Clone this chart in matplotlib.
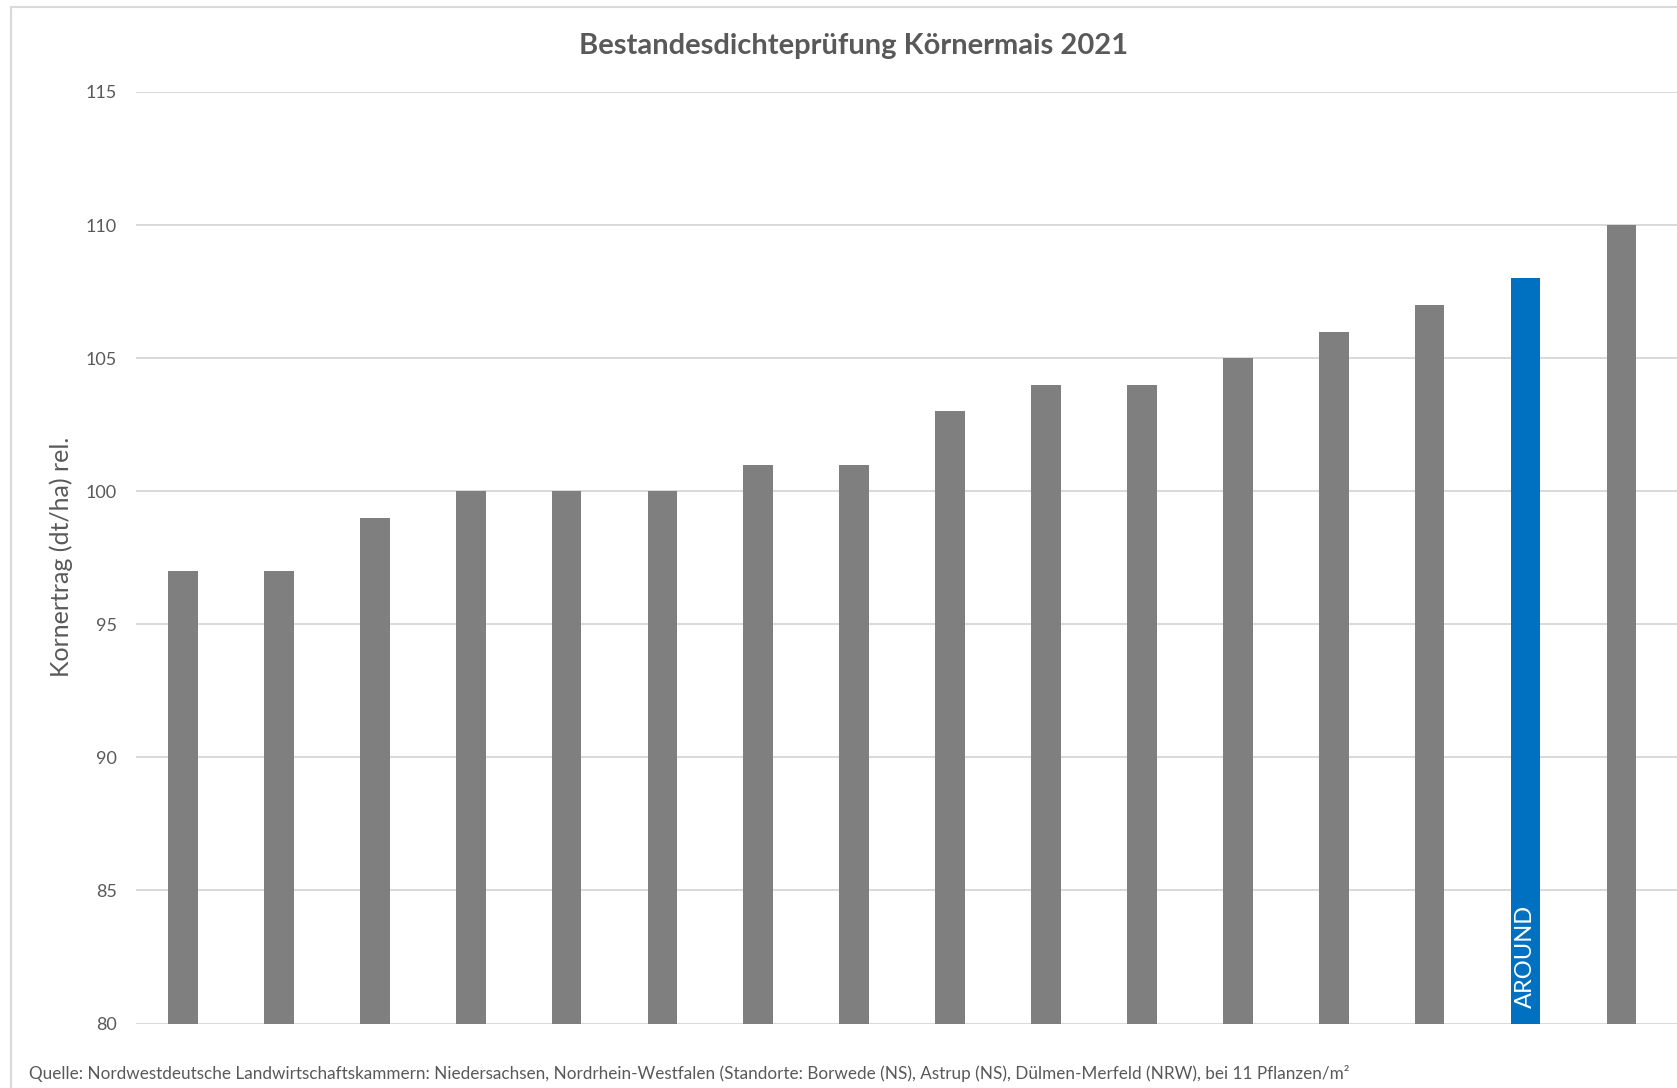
import matplotlib.pyplot as plt
from matplotlib.patches import Rectangle

plt.rcParams['font.family'] = ['Lato', 'DejaVu Sans']

# Kornertrag rel. je Sorte (aufsteigend sortiert)
values = [97, 97, 99, 100, 100, 100, 101, 101, 103, 104, 104, 105, 106, 107, 108, 110]
highlight_idx = 14
highlight_label = 'AROUND'
yticks = [80, 85, 90, 95, 100, 105, 110, 115]

GREY = '#7F7F7F'
BLUE = '#0070C0'
TEXT = '#595959'
GRID = '#D9D9D9'

W, H = 1677, 1088
fig = plt.figure(figsize=(W / 100, H / 100), dpi=100)

# heller Rahmen um das Diagramm
fig.patches.append(Rectangle((11 / W, -0.1), 1.2, 1 - 7 / H + 0.1, transform=fig.transFigure,
                             fill=False, edgecolor=GRID, linewidth=1.5))

ax = fig.add_axes([136 / W, 64.5 / H, 1 - 136 / W, (1023.5 - 92) / H])
x = list(range(len(values)))
colors = [BLUE if i == highlight_idx else GREY for i in x]
ax.bar(x, [v - 80 for v in values], bottom=80, width=0.31, color=colors, zorder=3)

ax.set_ylim(80, 115)
ax.set_xlim(-0.49, 15.58)
ax.set_yticks(yticks)
ax.set_yticklabels([str(t) for t in yticks], fontsize=13, color=TEXT)
ax.tick_params(axis='y', length=0, pad=14)
ax.set_xticks([])
ax.grid(True, axis='y', color=GRID, linewidth=1.4, zorder=0)
for s in ax.spines.values():
    s.set_visible(False)

ax.text(highlight_idx, 80.6, highlight_label, rotation=90, color='white', fontsize=17,
        ha='center', va='bottom', zorder=4)

fig.text(61 / W, 1 - 557 / H, 'Kornertrag (dt/ha) rel.', rotation=90, fontsize=18,
         color=TEXT, ha='center', va='center')
fig.text(854 / W, 1 - 46 / H, 'Bestandesdichteprüfung Körnermais 2021', fontsize=21,
         fontweight='bold', color=TEXT, ha='center', va='center')
fig.text(29 / W, 1 - 1073 / H,
         'Quelle: Nordwestdeutsche Landwirtschaftskammern: Niedersachsen, Nordrhein-Westfalen '
         '(Standorte: Borwede (NS), Astrup (NS), Dülmen-Merfeld (NRW), bei 11 Pflanzen/m²',
         fontsize=12.3, color=TEXT, ha='left', va='center')

plt.savefig('out.png', dpi=100)
